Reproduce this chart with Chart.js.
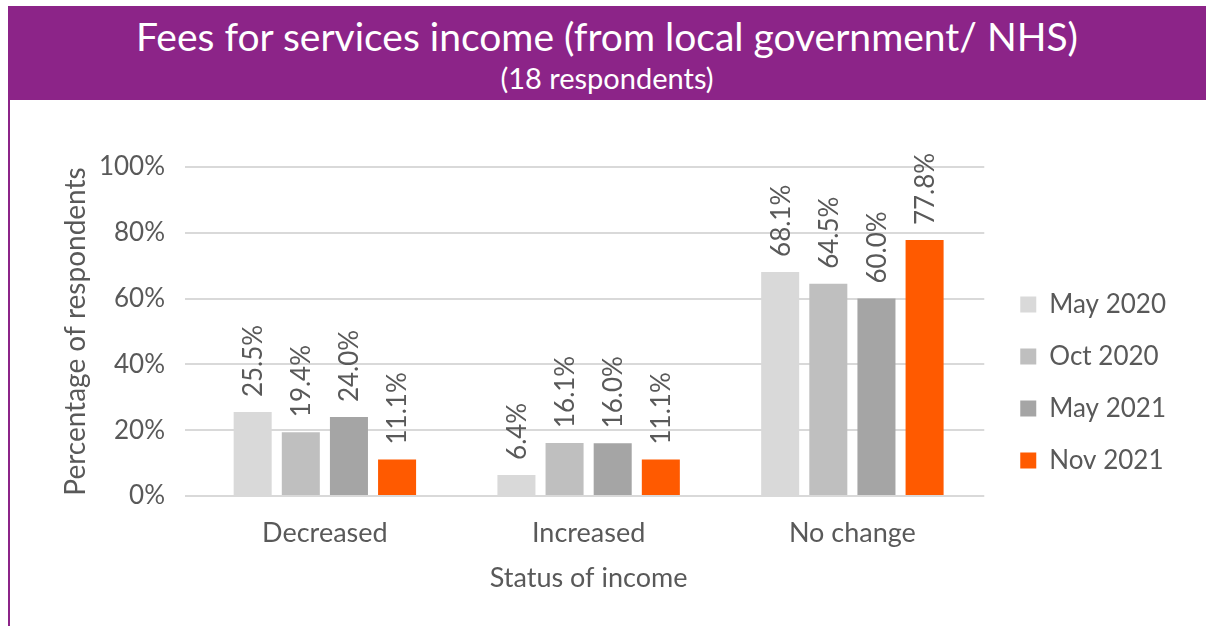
<!DOCTYPE html>
<html>
<head>
<meta charset="utf-8">
<script src="https://cdn.jsdelivr.net/npm/chart.js@4/dist/chart.umd.min.js"></script>
<style>
  html, body { margin: 0; padding: 0; background: #fff; }
  body { width: 1206px; height: 626px; position: relative; overflow: hidden; font-family: Lato, "Open Sans", sans-serif; }
  #banner {
    position: absolute; left: 8px; top: 6px; right: 0; height: 94px;
    background: #8C2488; color: #fff; text-align: center;
  }
  #banner .main { font-size: 39px; line-height: 42px; padding-top: 9px; }
  #banner .sub { font-size: 29px; line-height: 32px; margin-top: 5px; }
  #side { position: absolute; left: 8px; top: 100px; width: 2px; bottom: 0; background: #8C2488; }
  #wrap { position: absolute; left: 10px; top: 100px; width: 1196px; height: 526px; }
</style>
</head>
<body>
<div id="banner">
  <div class="main">Fees for services income (from local government/ NHS)</div>
  <div class="sub">(18 respondents)</div>
</div>
<div id="side"></div>
<div id="wrap"><canvas id="feesChart"></canvas></div>
<script>
const categories = ['Decreased', 'Increased', 'No change'];
const seriesNames = ['May 2020', 'Oct 2020', 'May 2021', 'Nov 2021'];
const may2020 = [25.5, 6.4, 68.1];
const oct2020 = [19.4, 16.1, 64.5];
const may2021 = [24.0, 16.0, 60.0];
const nov2021 = [11.1, 11.1, 77.8];
const yTicks = [0, 20, 40, 60, 80, 100];
const seriesColors = ['#D9D9D9', '#BFBFBF', '#A5A5A5', '#FF5A00'];

const textColor = '#595959';
const fontFamily = 'Lato, "Open Sans", sans-serif';

// value labels written upwards above each bar
const barLabels = {
  id: 'barLabels',
  afterDatasetsDraw(chart) {
    const ctx = chart.ctx;
    ctx.save();
    ctx.fillStyle = textColor;
    ctx.font = '26px ' + fontFamily;
    ctx.textAlign = 'left';
    ctx.textBaseline = 'middle';
    chart.data.datasets.forEach((ds, i) => {
      chart.getDatasetMeta(i).data.forEach((bar, j) => {
        ctx.save();
        ctx.translate(bar.x + 1, bar.y - 15);
        ctx.rotate(-Math.PI / 2);
        ctx.fillText(ds.data[j].toFixed(1) + '%', 0, 0);
        ctx.restore();
      });
    });
    ctx.restore();
  }
};

// move the legend block a little right and up from where the layout puts it
const legendNudge = {
  id: 'legendNudge',
  afterLayout(chart) {
    const lg = chart.legend;
    lg.left += 10; lg.right += 10;
    lg.top -= 14; lg.bottom -= 14;
  }
};

const ctx = document.getElementById('feesChart').getContext('2d');
new Chart(ctx, {
  type: 'bar',
  data: {
    labels: categories,
    datasets: [may2020, oct2020, may2021, nov2021].map((d, i) => ({
      label: seriesNames[i],
      data: d,
      backgroundColor: seriesColors[i],
      categoryPercentage: 0.73,
      barPercentage: 0.79
    }))
  },
  options: {
    responsive: true,
    maintainAspectRatio: false,
    animation: false,
    layout: { padding: { top: 67, right: 40, left: 38, bottom: 0 } },
    plugins: {
      legend: {
        position: 'right',
        labels: {
          color: textColor,
          font: { size: 26, family: fontFamily },
          boxWidth: 16,
          boxHeight: 16,
          padding: 26
        }
      },
      tooltip: { enabled: false }
    },
    scales: {
      x: {
        grid: { display: false },
        border: { display: false },
        afterFit: s => { s.height = 130; },
        ticks: { color: textColor, font: { size: 27, family: fontFamily }, padding: 13 },
        title: { display: true, text: 'Status of income', color: textColor, font: { size: 27, family: fontFamily }, padding: { top: 0, bottom: 32 } }
      },
      y: {
        min: 0,
        max: 100,
        afterFit: s => { s.width = 145; },
        afterBuildTicks: s => { s.ticks = yTicks.map(v => ({ value: v })); },
        grid: { color: '#D9D9D9', lineWidth: 2 },
        border: { display: false },
        ticks: {
          color: textColor,
          font: { size: 26, family: fontFamily },
          padding: 20,
          callback: v => v + '%'
        },
        title: { display: true, text: 'Percentage of respondents', color: textColor, font: { size: 28, family: fontFamily }, padding: { top: 11, bottom: 8 } }
      }
    }
  },
  plugins: [barLabels, legendNudge]
});
</script>
</body>
</html>
